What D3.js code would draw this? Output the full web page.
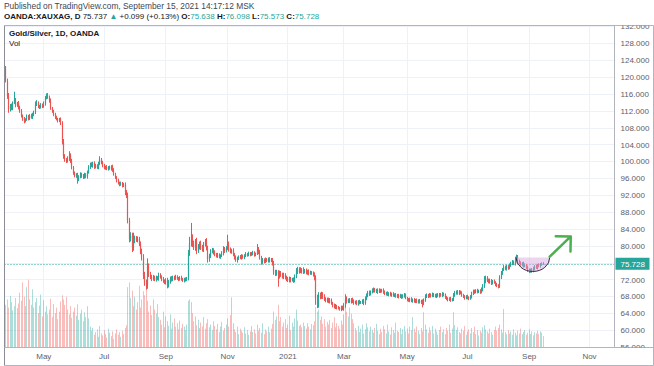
<!DOCTYPE html>
<html><head><meta charset="utf-8">
<script src="https://cdn.jsdelivr.net/npm/d3@7"></script>
<style>html,body{margin:0;padding:0;background:#fff;} svg{display:block;font-family:"Liberation Sans",Arial,sans-serif;}</style>
</head><body>
<svg id="c" width="654" height="366"></svg>
<script>
// ---------------- DATA ----------------
const startDate = "2020-03-25";
const endAxisDate = "2021-11-30";
const holidays = ["2020-12-25", "2021-01-01"];
const firstOpen = 122.4;
const closes = [
119.0,115.4,112.3,113.2,112.5,113.9,114.6,113.3,113.8,112.8,
111.9,110.8,110.1,109.6,109.9,110.6,110.2,110.9,110.4,111.0,
111.6,113.4,113.8,113.1,112.8,113.3,113.0,113.6,115.0,115.6,
115.2,114.4,112.6,111.8,111.2,110.4,110.0,109.7,109.9,108.9,
104.5,101.2,100.4,100.0,100.6,101.4,100.2,98.6,97.2,96.5,
96.8,95.6,96.4,97.0,96.6,96.2,96.8,96.4,97.4,98.6,
99.3,98.9,99.6,98.7,99.0,98.5,99.4,100.4,99.8,99.0,
98.4,98.7,98.2,98.6,98.3,98.8,97.9,96.9,96.2,95.5,
94.9,94.6,94.8,94.3,94.5,92.6,91.8,86.0,81.6,82.3,
79.5,81.2,81.8,81.4,81.6,80.4,78.6,77.2,72.9,71.2,
70.6,75.0,73.2,72.6,72.2,72.5,72.0,72.4,72.2,73.0,
72.6,72.1,71.6,71.4,71.8,70.6,71.4,72.3,72.0,72.5,
72.2,72.6,72.3,72.1,72.4,72.0,71.8,72.1,71.9,72.2,
78.2,80.6,81.5,80.4,79.6,81.0,78.9,79.8,80.5,79.6,
79.2,80.4,81.0,79.4,76.8,77.6,78.6,79.0,78.4,77.9,
77.6,77.8,77.4,77.7,78.2,79.3,78.7,79.4,80.4,79.1,
78.6,78.9,77.9,77.2,76.6,77.0,77.4,77.1,77.5,77.2,
77.6,78.0,77.8,78.2,77.9,78.1,78.3,77.9,78.1,79.2,
78.4,77.2,76.1,76.6,76.3,76.7,76.4,76.9,76.5,76.6,
75.8,73.9,73.4,73.8,72.9,73.5,73.2,72.7,73.1,72.5,
72.1,71.8,72.3,71.9,72.0,71.7,72.6,74.2,73.8,74.4,
73.9,74.3,73.7,74.1,73.6,73.9,73.4,73.7,73.5,73.2,
72.4,67.6,66.0,68.3,67.9,68.6,68.0,67.4,67.0,67.3,
66.8,67.1,66.4,65.9,65.5,65.7,65.3,65.2,65.0,65.4,
65.1,65.9,67.4,66.8,67.1,66.7,67.2,66.9,66.4,66.7,
66.3,66.8,66.5,66.6,66.9,66.4,67.4,68.2,68.9,68.6,
69.0,69.3,69.6,69.2,69.5,69.1,69.4,69.2,69.5,69.0,
68.6,68.8,68.4,68.7,68.3,68.6,68.2,68.4,68.0,68.3,
67.9,68.2,67.8,68.1,68.3,67.6,67.2,67.0,67.4,66.9,
67.2,66.8,67.1,66.7,67.0,66.6,66.9,66.3,67.0,67.9,
68.3,68.0,68.4,68.1,68.5,68.2,68.0,68.4,68.1,68.5,
68.2,68.6,68.3,67.8,67.4,67.2,67.5,67.1,67.3,68.2,
68.8,69.0,68.7,69.1,68.8,68.3,67.9,67.6,68.0,67.7,
67.5,67.9,68.6,69.2,69.0,69.4,69.1,69.3,69.0,69.6,
70.4,71.6,72.3,71.8,71.4,71.7,71.2,71.6,71.3,70.8,
70.6,70.4,72.4,73.5,74.3,74.9,74.6,75.0,74.7,75.3,
75.8,76.1,75.7,76.8,77.4,76.2,75.9,75.6,75.8,75.2,
75.4,74.9,74.3,73.9,74.2,74.0,74.6,75.1,74.8,75.4,
75.2,75.6,75.638,75.728];
// upper / lower wick extensions beyond the body, in tenths of a ratio point
const hiExt = [
2,6,8,4,5,3,19,4,3,5, 4,5,3,4,3,5,4,3,4,5, 4,8,7,4,3,5,4,6,5,5, 6,4,5,3,4,3,4,3,4,5,
6,8,5,4,6,10,5,4,3,4, 4,5,3,4,3,4,5,4,4,5, 4,5,3,4,4,3,5,8,4,3, 4,3,4,3,4,3,4,5,4,3,
4,3,4,3,4,5,6,8,6,9, 8,19,6,5,6,5,6,7,8,9, 8,20,8,6,5,6,4,5,4,6, 5,4,5,4,5,6,5,4,5,4,
4,5,4,3,4,5,4,3,4,4, 8,15,39,12,8,6,9,6,5,7, 6,5,6,8,6,5,6,5,4,5, 4,5,4,3,5,6,4,5,22,6,
5,4,5,4,5,4,3,4,5,4, 4,5,3,4,3,4,5,4,3,12, 5,6,4,5,4,5,4,3,4,5, 5,6,4,5,4,6,5,4,5,4,
4,5,4,3,4,5,6,5,8,5, 5,4,6,4,5,4,5,4,3,4, 5,6,8,7,6,5,4,5,4,4, 4,5,4,3,4,5,3,4,3,4,
4,5,11,6,4,5,4,5,4,3, 4,3,4,3,4,5,6,5,4,5, 4,6,5,4,3,4,5,4,3,4, 4,3,4,3,4,3,4,3,4,3,
3,4,3,4,5,4,3,4,3,4, 3,4,3,4,3,4,3,4,5,6, 4,3,4,3,4,3,4,3,4,3, 3,4,3,4,3,4,3,4,3,6,
5,4,5,4,3,4,3,4,3,4, 3,4,5,4,4,3,4,3,4,5, 5,12,6,5,4,5,4,3,4,3, 4,3,6,5,4,5,4,5,4,5,
4,5,4,6,5,4,5,4,3,4, 4,3,4,3,4,5,4,3,4,3, 4,3,4,4];
const loExt = [
3,6,8,5,4,4,3,5,4,5, 4,4,5,6,4,3,5,4,3,4, 3,4,3,5,4,3,4,3,4,3, 4,5,4,3,5,4,3,5,4,3,
5,6,5,4,3,5,6,5,4,3, 4,9,3,4,5,4,3,4,5,3, 4,3,4,5,4,3,4,3,5,4, 3,4,3,4,3,5,4,3,4,5,
4,5,4,5,4,6,5,7,8,6, 10,7,6,5,6,5,6,7,8,7, 10,8,6,5,6,5,4,5,4,5, 4,5,4,5,6,7,5,4,5,4,
4,3,4,5,4,3,4,5,4,3, 4,6,8,7,6,8,9,6,7,6, 6,7,6,5,8,6,5,4,5,4, 4,5,4,5,4,5,4,3,4,5,
4,5,4,5,4,6,4,3,4,3, 4,3,4,3,4,3,4,5,4,3, 4,5,6,4,5,4,3,4,5,4, 5,8,6,5,26,7,6,5,6,5,
5,4,5,6,4,5,4,3,5,4, 4,5,4,3,4,5,4,3,4,5, 6,16,8,7,6,5,6,5,4,5, 4,5,4,5,4,5,4,3,4,5,
4,5,6,5,4,3,4,5,4,3, 4,5,4,3,4,5,4,3,4,5, 4,3,4,3,4,5,3,4,3,4, 3,4,3,4,3,4,3,4,3,4,
4,3,4,3,4,3,4,3,4,3, 4,3,4,3,4,3,4,9,4,3, 3,4,3,4,3,4,3,4,3,4, 3,4,3,4,3,4,3,4,3,4,
3,4,3,4,3,4,3,4,3,4, 4,3,4,3,4,3,4,3,4,3, 4,4,5,4,3,4,5,4,3,4, 4,5,4,3,4,3,4,5,4,3,
3,4,3,4,5,4,3,4,5,4, 3,4,5,4,3,4,3,4,3,4, 3,4,3,1];
const volumes = [
62,70,58,75,66,54,60,72,57,64, 80,68,95,74,60,88,99,70,62,85, 58,66,72,50,61,77,45,69,52,60, 48,55,71,44,63,50,58,41,52,67,
76,70,62,74,55,48,60,43,52,58, 46,63,40,49,55,38,51,44,60,42, 30,24,28,18,22,26,15,31,20,17, 25,19,14,27,21,16,23,12,20,26,
18,22,15,24,19,28,32,88,95,72, 83,60,74,55,66,90,58,70,82,76, 94,68,52,61,47,70,55,49,63,44, 40,33,52,29,45,38,31,48,27,36,
42,30,35,26,39,28,34,30,25,33, 68,70,66,50,38,45,32,40,28,36, 30,44,27,35,41,29,33,25,38,31, 26,34,22,30,37,24,28,33,42,30,
47,73,35,26,22,30,19,27,24,21, 29,20,25,18,23,31,22,26,20,33, 24,28,21,35,19,26,23,30,22,27, 34,52,40,45,62,38,44,30,36,41,
28,33,46,25,36,30,42,55,39,31, 33,29,36,31,27,35,30,26,34,32, 38,59,52,55,40,45,34,41,30,37, 33,40,28,36,44,29,35,31,27,39,
33,48,62,52,45,58,49,41,35,28, 24,31,22,27,33,20,26,35,29,23, 30,25,21,28,34,24,19,27,22,31, 26,20,33,23,18,29,25,21,36,24,
22,28,19,26,31,23,27,20,30,25, 44,27,22,30,24,19,28,23,51,33, 26,21,29,24,31,20,27,23,18,25, 30,22,26,19,28,24,33,21,27,51,
32,25,29,22,20,27,24,31,18,23, 26,20,28,22,30,19,25,17,24,21, 29,32,26,23,20,27,22,18,25,30, 24,28,33,26,21,56,22,19,25,20,
23,18,26,21,17,24,20,27,19,22, 25,18,21,26,19,23,17,22,20,24, 19,23,21,16];
const priceTicks = [56,60,64,68,72,80,84,88,92,96,100,104,108,112,116,120,124,128,132];
const timeTickDates = ["2020-05-01","2020-07-01","2020-09-01","2020-11-02","2021-01-04","2021-03-01","2021-05-03","2021-07-01","2021-09-01","2021-11-01"];
const timeTickLabels = ["May","Jul","Sep","Nov","2021","Mar","May","Jul","Sep","Nov"];
const lastPrice = 75.728;
const headerLine1 = "Published on TradingView.com, September 15, 2021 14:17:12 MSK";
const symbolText = "OANDA:XAUXAG, D";
const quote = {last:"75.737", change:"+0.099 (+0.13%)", O:"75.638", H:"76.098", L:"75.573", C:"75.728"};
const paneTitle = "Gold/Silver, 1D, OANDA";
// annotation: rounded-bottom "cup" and upward arrow (bar index / price)
const cupIdx = [364, 388], cupPrice = [77.2, 73.9];
const arrowIdx = [388, 403], arrowPrice = [77.4, 82.2];

// ---------------- LAYOUT ----------------
const svg = d3.select("#c");
const paneL = 4.5, paneR = 614.5, paneT = 25.5, paneB = 347.5;
const UP = "#26a69a", DN = "#ef5350";

const parse = d3.utcParse("%Y-%m-%d"), fmt = d3.utcFormat("%Y-%m-%d");
const days = d3.utcDay.range(parse(startDate), d3.utcDay.offset(parse(endAxisDate),1))
  .filter(d => d.getUTCDay() !== 0 && d.getUTCDay() !== 6 && !holidays.includes(fmt(d)));
const dayIndex = new Map(days.map((d,i)=>[fmt(d), i]));

const x = d3.scaleLinear().domain([0, 416]).range([5.4, 589]);
const y = d3.scaleLinear().domain([56, 132]).range([347, 26.3]);
const yv = d3.scaleLinear().domain([0, 100]).range([347, 279]);

const bars = closes.map((c,i) => {
  const o = i === 0 ? firstOpen : closes[i-1];
  return {i, o, c, h: Math.max(o,c) + hiExt[i]/10, l: Math.min(o,c) - loExt[i]/10, v: volumes[i]};
});

const defs = svg.append("defs");
defs.append("clipPath").attr("id","pane").append("rect")
  .attr("x",paneL).attr("y",paneT).attr("width",paneR-paneL).attr("height",paneB-paneT);
defs.append("clipPath").attr("id","paxis").append("rect")
  .attr("x",paneR).attr("y",paneT).attr("width",40).attr("height",paneB-paneT);

const tickIdx = timeTickDates.map(d => dayIndex.get(d));
const grid = svg.append("g").attr("clip-path","url(#pane)");
grid.selectAll(".hg").data(priceTicks.concat([76])).join("line")
  .attr("x1",paneL).attr("x2",paneR)
  .attr("y1",d=>Math.round(y(d))+0.5).attr("y2",d=>Math.round(y(d))+0.5)
  .attr("stroke","#eef1f7").attr("stroke-width",1);
grid.selectAll(".vg").data(tickIdx).join("line")
  .attr("x1",d=>Math.round(x(d))+0.5).attr("x2",d=>Math.round(x(d))+0.5)
  .attr("y1",paneT).attr("y2",paneB)
  .attr("stroke","#eef1f7").attr("stroke-width",1);

const plot = svg.append("g").attr("clip-path","url(#pane)");
plot.append("g").selectAll("rect").data(bars).join("rect")
  .attr("x",d=>Math.round(x(d.i))).attr("width",1)
  .attr("y",d=>yv(d.v)).attr("height",d=>yv(0)-yv(d.v))
  .attr("fill",d=>d.c>=d.o ? "rgba(38,166,154,0.38)" : "rgba(239,83,80,0.38)");

plot.append("line").attr("x1",paneL).attr("x2",paneR)
  .attr("y1",Math.round(y(lastPrice))+0.5).attr("y2",Math.round(y(lastPrice))+0.5)
  .attr("stroke",UP).attr("stroke-width",1).attr("stroke-dasharray","1,2");

const cg = plot.append("g");
cg.selectAll("line").data(bars).join("line")
  .attr("x1",d=>Math.round(x(d.i))+0.5).attr("x2",d=>Math.round(x(d.i))+0.5)
  .attr("y1",d=>y(d.h)).attr("y2",d=>y(d.l))
  .attr("stroke",d=>d.c>=d.o?UP:DN).attr("stroke-width",1);
cg.selectAll("rect").data(bars).join("rect")
  .attr("x",d=>Math.round(x(d.i))-0.1).attr("width",1.2)
  .attr("y",d=>y(Math.max(d.o,d.c)))
  .attr("height",d=>Math.max(1, Math.abs(y(d.o)-y(d.c))))
  .attr("fill",d=>d.c>=d.o?UP:DN);

const cx0 = x(cupIdx[0]), cx1 = x(cupIdx[1]), cyT = y(cupPrice[0]), cyB = y(cupPrice[1]);
plot.append("path")
  .attr("d",`M${cx0},${cyT} A${(cx1-cx0)/2},${cyB-cyT} 0 0 0 ${cx1},${cyT} Z`)
  .attr("fill","rgba(214,160,222,0.45)").attr("stroke","none");
plot.append("path")
  .attr("d",`M${cx0},${cyT} A${(cx1-cx0)/2},${cyB-cyT} 0 0 0 ${cx1},${cyT}`)
  .attr("fill","none").attr("stroke","#3c2a4a").attr("stroke-width",1);

const ax0 = x(arrowIdx[0]), ay0 = y(arrowPrice[0]), ax1 = x(arrowIdx[1]), ay1 = y(arrowPrice[1]);
const ang = Math.atan2(ay1-ay0, ax1-ax0), hl = 15;
const h1 = [ax1 - hl*Math.cos(ang - Math.PI/4), ay1 - hl*Math.sin(ang - Math.PI/4)];
const h2 = [ax1 - hl*Math.cos(ang + Math.PI/4), ay1 - hl*Math.sin(ang + Math.PI/4)];
plot.append("path")
  .attr("d",`M${ax0},${ay0} L${ax1},${ay1} M${h1[0]},${h1[1]} L${ax1},${ay1} L${h2[0]},${h2[1]}`)
  .attr("fill","none").attr("stroke","#4caf50").attr("stroke-width",2.5)
  .attr("stroke-linecap","round").attr("stroke-linejoin","round");

const frame = svg.append("g").attr("stroke","#b2b5be").attr("stroke-width",1);
frame.append("line").attr("x1",paneL).attr("x2",653.5).attr("y1",paneT).attr("y2",paneT);
frame.append("line").attr("x1",paneL).attr("x2",paneL).attr("y1",paneT).attr("y2",365.5).attr("stroke","#8a8d96");
frame.append("line").attr("x1",paneR).attr("x2",paneR).attr("y1",paneT).attr("y2",paneB);
frame.append("line").attr("x1",paneL).attr("x2",653.5).attr("y1",paneB).attr("y2",paneB);
frame.append("line").attr("x1",paneL).attr("x2",653.5).attr("y1",365.5).attr("y2",365.5);
frame.append("line").attr("x1",653.5).attr("x2",653.5).attr("y1",paneT).attr("y2",365.5);

const pa = svg.append("g").attr("clip-path","url(#paxis)")
  .append("g").attr("transform",`translate(${paneR},0)`)
  .call(d3.axisRight(y).tickValues(priceTicks).tickFormat(d=>d.toFixed(3)).tickSize(0).tickPadding(6));
pa.select(".domain").remove();
pa.selectAll("text").attr("fill","#5d606b").style("font-size","8px").style("font-family","Liberation Sans, Arial, sans-serif");

const lpY = y(lastPrice);
svg.append("rect").attr("x",paneR+1).attr("y",lpY-6).attr("width",34).attr("height",12).attr("fill",UP);
svg.append("text").attr("x",paneR+6).attr("y",lpY+3).attr("fill","#fff").style("font-size","8px").text(lastPrice.toFixed(3));

const ta = svg.append("g").attr("transform",`translate(0,${paneB})`)
  .call(d3.axisBottom(x).tickValues(tickIdx).tickFormat((d,i)=>timeTickLabels[i]).tickSize(0).tickPadding(6));
ta.select(".domain").remove();
ta.selectAll("text").attr("fill","#5d606b").style("font-size","8px").style("font-family","Liberation Sans, Arial, sans-serif");

svg.append("text").attr("x",4).attr("y",9).attr("fill","#434651").style("font-size","8.4px").text(headerLine1);
const h2t = svg.append("text").attr("x",4).attr("y",19).style("font-size","8px").attr("fill","#131722");
h2t.append("tspan").attr("font-weight","bold").text(symbolText + " ");
h2t.append("tspan").text(quote.last + " ");
h2t.append("tspan").attr("fill",UP).text("\u25B2 ");
h2t.append("tspan").text(quote.change + " ");
["O","H","L","C"].forEach(k => {
  h2t.append("tspan").attr("font-weight","bold").text(k + ":");
  h2t.append("tspan").attr("fill",UP).text(quote[k] + " ");
});
svg.append("text").attr("x",9).attr("y",36).attr("fill","#131722").attr("font-weight","bold").style("font-size","8px").text(paneTitle);
svg.append("text").attr("x",9).attr("y",46).attr("fill","#131722").style("font-size","8px").text("Vol");
</script>
</body></html>
